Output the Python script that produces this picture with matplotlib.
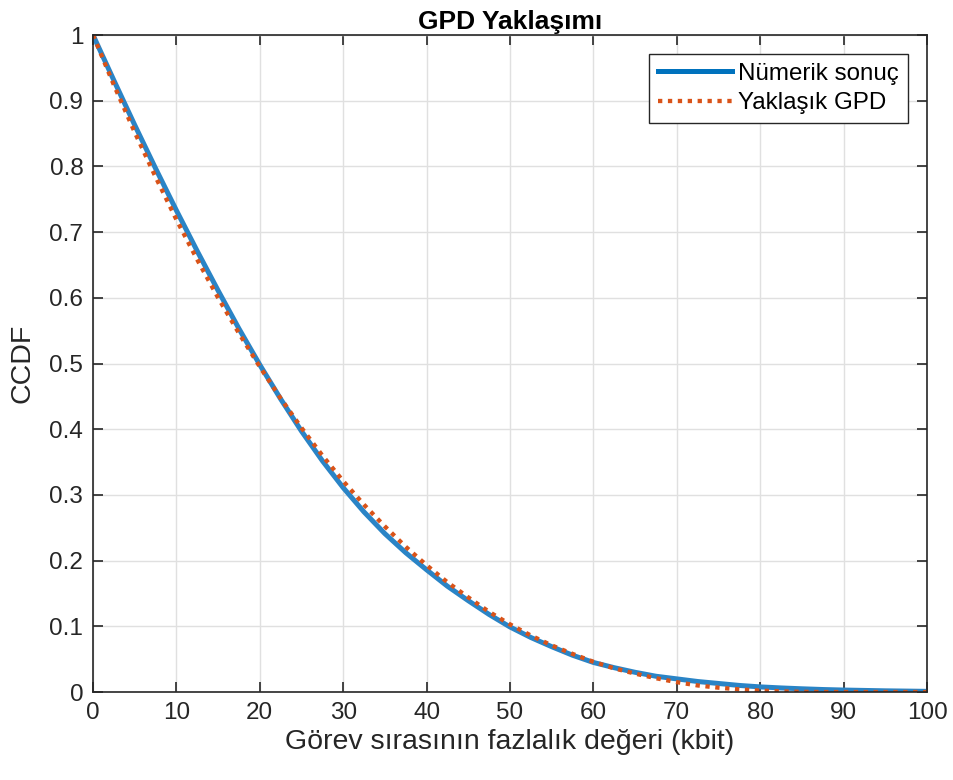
import matplotlib.pyplot as plt

# x positions (kbit) where the curves were read
x_kbit = [0, 2.5, 5, 7.5, 10, 12.5, 15, 17.5, 20, 22.5, 25, 27.5, 30, 32.5, 35,
          37.5, 40, 42.5, 45, 47.5, 50, 52.5, 55, 57.5, 60, 62.5, 65, 67.5, 70,
          72.5, 75, 77.5, 80, 82.5, 85, 87.5, 90, 92.5, 95, 97.5, 100]

# numerical result (CCDF)
ccdf_num = [1.000, 0.931, 0.863, 0.797, 0.733, 0.671, 0.611, 0.553, 0.498,
            0.446, 0.397, 0.352, 0.311, 0.274, 0.241, 0.212, 0.186, 0.161,
            0.139, 0.118, 0.099, 0.083, 0.069, 0.056, 0.045, 0.037, 0.030,
            0.024, 0.020, 0.016, 0.013, 0.010, 0.0078, 0.0062, 0.0049, 0.0038,
            0.0030, 0.0024, 0.0018, 0.0014, 0.0010]

# GPD approximation (CCDF)
ccdf_gpd = [1.000, 0.924, 0.852, 0.784, 0.719, 0.658, 0.600, 0.546, 0.495,
            0.447, 0.402, 0.360, 0.321, 0.285, 0.252, 0.221, 0.193, 0.167,
            0.144, 0.122, 0.103, 0.086, 0.071, 0.058, 0.046, 0.036, 0.028,
            0.021, 0.015, 0.010, 0.0066, 0.0040, 0.0021, 0.0010, 0.0003,
            0.00004, 0.0, 0.0, 0.0, 0.0, 0.0]

x_ticks = list(range(0, 101, 10))
y_ticks = [0, 0.1, 0.2, 0.3, 0.4, 0.5, 0.6, 0.7, 0.8, 0.9, 1]
y_tick_labels = ['0', '0.1', '0.2', '0.3', '0.4', '0.5', '0.6', '0.7', '0.8', '0.9', '1']

plt.rcParams['font.family'] = ['Liberation Sans', 'DejaVu Sans']

fig = plt.figure(figsize=(9.54, 7.8), dpi=100)
ax = fig.add_axes([0.0975, 0.1128, 0.8742, 0.8423])

ax.plot(x_kbit, ccdf_num, color='#2a84c6', linewidth=3.6, label='Nümerik sonuç')
ax.plot(x_kbit, ccdf_gpd, color='#D95319', linewidth=3.1,
        linestyle=(0, (1, 1.3)), dash_capstyle='butt', label='Yaklaşık GPD')

ax.set_xlim(0, 100)
ax.set_ylim(0, 1)
ax.set_xticks(x_ticks)
ax.set_yticks(y_ticks)
ax.set_yticklabels(y_tick_labels)
ax.tick_params(direction='in', length=7, width=1.2, colors='#262626',
               labelsize=17.5, top=True, right=True, pad=7)
ax.grid(True, color='#e0e0e0', linewidth=1)
ax.set_axisbelow(True)
for sp in ax.spines.values():
    sp.set_color('#262626')
    sp.set_linewidth(1.2)

ax.set_xlabel('Görev sırasının fazlalık değeri (kbit)', fontsize=20.5,
              color='#262626', labelpad=4)
ax.set_ylabel('CCDF', fontsize=20.5, color='#262626', labelpad=10)
ax.set_title('GPD Yaklaşımı', fontsize=19, fontweight='bold', pad=4)

leg = ax.legend(loc='upper right', fontsize=17.4, frameon=True, fancybox=False,
                edgecolor='#262626', framealpha=1, handlelength=3.1,
                borderaxespad=0.8, borderpad=0.35, labelspacing=0.3,
                handletextpad=0.25)
leg.get_frame().set_linewidth(1.0)
leg.get_lines()[0].set_color('#0072BD')

fig.savefig('out.png', dpi=100)
